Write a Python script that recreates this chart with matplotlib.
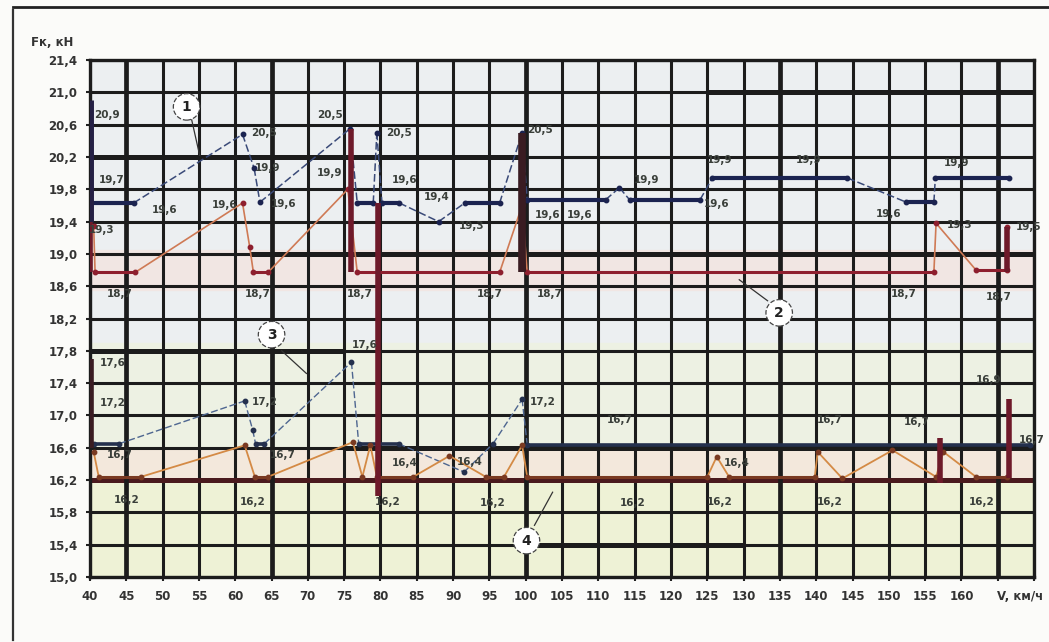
import matplotlib
matplotlib.use("Agg")
import matplotlib.pyplot as plt
from matplotlib.lines import Line2D
from matplotlib.ticker import FuncFormatter

# ---------------- data ----------------
# curve 1 (upper group, dark blue)
v1 = [40, 46, 61, 62.6, 63.4, 75.8, 76.8, 79, 79.5, 80.2, 82.6, 88, 91.6, 96.4, 99.5, 100.2, 111, 112.9,
      114.3, 124, 125.7, 144.3, 152.4, 156.2, 156.4, 166.5]
F1 = [19.63, 19.63, 20.48, 20.06, 19.64, 20.55, 19.63, 19.63, 20.5, 19.63, 19.63, 19.4, 19.63, 19.63, 20.5,
      19.67, 19.67, 19.82, 19.67, 19.67, 19.94, 19.94, 19.64, 19.64, 19.94, 19.94]
# curve 2 (upper group, red)
v2 = [40.5, 40.7, 46.2, 61, 62, 62.5, 64.5, 75.5, 76.8, 96.4, 99.5, 100.2, 156.2, 156.5, 162, 166.3, 166.3]
F2 = [19.35, 18.77, 18.77, 19.63, 19.08, 18.77, 18.77, 19.8, 18.77, 18.77, 19.6, 18.77, 18.77, 19.38, 18.8,
      18.8, 19.33]
# curve 3 (lower group, blue)
v3 = [40.5, 44, 61.3, 62.4, 62.8, 64, 76, 77, 82.5, 91.5, 95.5, 99.5, 100.2, 169.5]
F3 = [16.65, 16.65, 17.18, 16.82, 16.65, 16.65, 17.66, 16.65, 16.65, 16.3, 16.65, 17.2, 16.64, 16.64]
# curve 4 (lower group, orange)
v4 = [40.5, 41.2, 47, 61.3, 62.7, 64.5, 76.2, 77.5, 78.6, 79.5, 84.5, 89.5, 94.5, 97, 99.5, 100.2, 125,
      126.3, 128, 139.8, 140.2, 143.6, 150.5, 156.5, 157.5, 162, 166.3]
F4 = [16.55, 16.24, 16.24, 16.63, 16.24, 16.24, 16.67, 16.24, 16.63, 16.24, 16.24, 16.5, 16.24, 16.24, 16.63,
      16.24, 16.24, 16.49, 16.24, 16.24, 16.55, 16.22, 16.57, 16.24, 16.55, 16.24, 16.24]

# thick vertical transition bars: speed, low, high
bar_v = [40, 40, 40, 76, 79.7, 99.5, 157, 166.3, 166.5]
bar_lo = [19.4, 18.77, 16.6, 18.77, 16.0, 18.77, 16.16, 18.77, 16.22]
bar_hi = [20.9, 19.4, 17.7, 20.55, 19.63, 20.5, 16.72, 19.33, 17.2]
bar_kind = ["navy", "red", "dark", "red", "red", "dark", "red", "red", "red"]

# value labels: text, speed, force
lab_text = ["20,9", "19,7", "19,6", "20,5", "19,9", "19,6", "19,6", "19,3", "18,7", "18,7", "20,5", "19,9",
            "20,5", "19,6", "19,4", "19,3", "18,7", "18,7", "20,5", "19,6", "19,6", "18,7", "19,9", "19,6",
            "19,9", "19,9", "19,6", "19,9", "19,3", "19,5", "18,7", "18,7",
            "17,6", "17,2", "16,7", "16,2", "17,2", "16,7", "16,2", "17,6", "16,2", "16,4", "16,4", "16,2",
            "17,2", "16,7", "16,2", "16,4", "16,2", "16,7", "16,7", "16,2", "16,9", "16,7", "16,2"]
lab_v = [42.3, 43.0, 50.3, 64.0, 64.5, 66.7, 58.5, 41.6, 44.1, 63.1, 73.0, 73.0,
         82.6, 83.3, 87.8, 92.5, 77.1, 95.0, 101.9, 103.0, 107.4, 103.3, 116.6, 126.3,
         126.7, 139.0, 150.0, 159.3, 159.7, 169.3, 152.1, 165.2,
         43.2, 43.2, 44.1, 45.1, 64.1, 66.5, 62.4, 77.8, 81.0, 83.3, 92.3, 95.4,
         102.3, 112.9, 114.7, 129.0, 126.7, 141.8, 153.8, 141.8, 163.8, 169.7, 162.8]
lab_F = [20.72, 19.91, 19.54, 20.50, 20.06, 19.62, 19.60, 19.30, 18.50, 18.50, 20.72, 20.00,
         20.50, 19.91, 19.70, 19.35, 18.50, 18.50, 20.53, 19.48, 19.48, 18.50, 19.91, 19.62,
         20.16, 20.16, 19.50, 20.12, 19.36, 19.33, 18.50, 18.47,
         17.65, 17.15, 16.51, 15.95, 17.17, 16.51, 15.93, 17.87, 15.93, 16.41, 16.42, 15.92,
         17.17, 16.95, 15.92, 16.41, 15.93, 16.94, 16.92, 15.93, 17.44, 16.70, 15.93]

# curve numbers: label, speed, force, pointer from (v,F) to (v,F)
num_text = ["1", "2", "3", "4"]
num_v = [53.3, 134.9, 65.0, 100.1]
num_F = [20.82, 18.27, 18.00, 15.45]
ptr_v0 = [54.0, 133.3, 66.4, 101.2]
ptr_F0 = [20.66, 18.42, 17.80, 15.64]
ptr_v1 = [55.1, 129.4, 69.8, 103.7]
ptr_F1 = [20.22, 18.68, 17.52, 16.05]

x_ticks = list(range(40, 171, 5))
y_ticks = [15.0 + 0.4 * i for i in range(17)]

# emphasized grid pieces: (value, from, to)
hthick_y = [20.2, 21.0, 19.0, 16.6, 17.8, 15.4, 16.2]
hthick_a = [40, 125, 62, 75, 40, 100, 40]
hthick_b = [100, 170, 170, 170, 75, 130, 170]
vthick_x = [45, 65, 100, 135, 165]

# ---------------- figure ----------------
fig = plt.figure(figsize=(10.49, 6.42), dpi=100)
fig.patch.set_facecolor("#fbfbf9")
ax = fig.add_axes([0.0858, 0.1012, 0.9000, 0.8053])
ax.set_xlim(40, 170)
ax.set_ylim(15.0, 21.4)

# background tints
ax.set_facecolor("#eceff1")
ax.axhspan(15.0, 16.4, color="#eef2d6", zorder=0)
ax.axhspan(16.4, 17.9, color="#edf1e3", zorder=0)
ax.axhspan(18.55, 19.05, color="#f1e6e3", zorder=0)
ax.axhspan(16.2, 16.6, color="#f3e8dc", zorder=0)

GRID = "#1c1c1c"
for xv in x_ticks:
    ax.axvline(xv, color=GRID, lw=2.2, zorder=1)
for yv in y_ticks:
    ax.axhline(yv, color=GRID, lw=2.2, zorder=1)
for yv, a, b in zip(hthick_y, hthick_a, hthick_b):
    c = "#4a1a1e" if abs(yv - 16.2) < 1e-6 else GRID
    ax.plot([a, b], [yv, yv], color=c, lw=3.6, zorder=1.5, solid_capstyle="butt")
for xv in vthick_x:
    ax.axvline(xv, color=GRID, lw=3.4, zorder=1.5)


def draw_curve(v, F, flat_color, slope_color, flat_lw, slope_lw, slope_ls):
    for i in range(len(v) - 1):
        flat = abs(F[i + 1] - F[i]) < 1e-6
        ax.plot(v[i:i + 2], F[i:i + 2],
                color=flat_color if flat else slope_color,
                lw=flat_lw if flat else slope_lw,
                ls="-" if flat else slope_ls, zorder=3, solid_capstyle="butt")
    ax.plot(v, F, ls="none", marker="o", ms=3.2, color=flat_color, zorder=4)


draw_curve(v1, F1, "#1b2350", "#3a4a78", 3.0, 1.1, (0, (5, 2)))
draw_curve(v2, F2, "#8e1f2e", "#cf7a55", 2.2, 1.2, "-")
draw_curve(v3, F3, "#24304d", "#4e6690", 2.6, 1.0, (0, (5, 2)))
draw_curve(v4, F4, "#7a3a22", "#d48a45", 2.2, 1.3, "-")

bar_colors = {"navy": "#252045", "red": "#6e1a2a", "dark": "#3a1c22"}
bar_widths = {"navy": 5.0, "red": 4.0, "dark": 5.5}
for xv, lo, hi, k in zip(bar_v, bar_lo, bar_hi, bar_kind):
    ax.plot([xv, xv], [lo, hi], color=bar_colors[k], lw=bar_widths[k], zorder=5, solid_capstyle="butt")

for t, xv, yv in zip(lab_text, lab_v, lab_F):
    ax.text(xv, yv, t, fontsize=7.5, color="#3a3f3a", ha="center", va="center", zorder=6,
            fontweight="bold")

for t, xv, yv in zip(num_text, num_v, num_F):
    ax.text(xv, yv, t, fontsize=10, color="#222222", ha="center", va="center", zorder=7,
            fontweight="bold",
            bbox=dict(boxstyle="circle,pad=0.45", fc="white", ec="#444444", lw=0.9, ls="--"))
for a0, b0, a1, b1 in zip(ptr_v0, ptr_F0, ptr_v1, ptr_F1):
    ax.plot([a0, a1], [b0, b1], color="#333333", lw=0.9, zorder=6)

# ticks
ax.set_xticks(x_ticks)
ax.set_xticklabels([str(x) if x <= 160 else "" for x in x_ticks])
ax.set_yticks(y_ticks)
ax.yaxis.set_major_formatter(FuncFormatter(lambda y, p: f"{y:.1f}".replace(".", ",")))
ax.tick_params(axis="both", length=3, width=1.5, colors="#222222", labelsize=8.5, pad=6)
for lbl in ax.get_xticklabels() + ax.get_yticklabels():
    lbl.set_fontweight("bold")
    lbl.set_color("#333333")
for s in ax.spines.values():
    s.set_color(GRID)
    s.set_linewidth(2.4)

fig.text(1020 / 1049, 1 - 597 / 642, "V, км/ч", fontsize=8.5, fontweight="bold", color="#333333",
         ha="center", va="center")
fig.text(52 / 1049, 1 - 42 / 642, "Fк, кН", fontsize=8.5, fontweight="bold", color="#333333",
         ha="center", va="center")

# scan frame
fig.add_artist(Line2D([13 / 1049, 13 / 1049], [1 - 10 / 642, 1 - 640 / 642], color="#333333", lw=1.6))
fig.add_artist(Line2D([13 / 1049, 1.0], [1 - 7 / 642, 1 - 7 / 642], color="#222222", lw=2.0))

fig.savefig("out.png", dpi=100, facecolor=fig.get_facecolor())
